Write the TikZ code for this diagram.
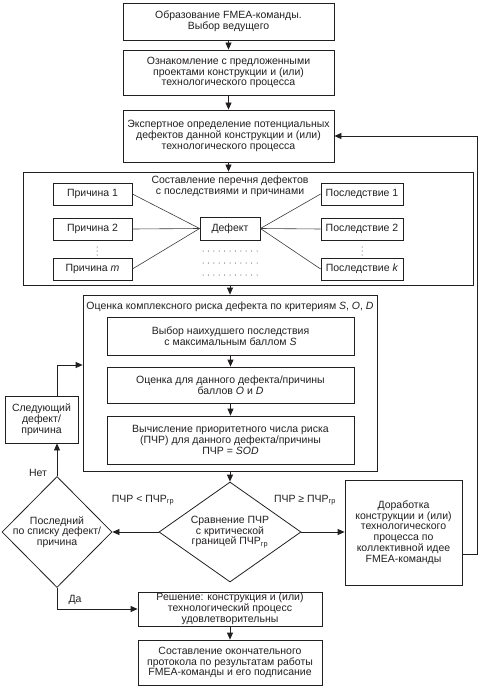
\documentclass[tikz,border=0pt]{standalone}
\usepackage{fontspec}
\setmainfont{Liberation Sans}
\usetikzlibrary{shapes, arrows.meta, positioning, calc}
\definecolor{inkblack}{RGB}{35, 31, 32}
\definecolor{linkgray}{RGB}{60, 60, 60}

\begin{document}
\begin{tikzpicture}[x=1pt, y=-1pt,
  stepbox/.style={draw=inkblack, line width=0.8pt, align=center, inner sep=1pt, text=inkblack, font=\fontsize{10.5}{10.8}\selectfont},
  decision/.style={diamond, draw=inkblack, line width=0.8pt, inner sep=0pt},
  lbl/.style={align=center, inner sep=0pt, text=inkblack, font=\fontsize{10.5}{10.8}\selectfont},
  flow/.style={draw=inkblack, line width=0.8pt, -{Triangle[length=7pt, width=6pt]}},
  link/.style={draw=linkgray, line width=0.6pt},
  dotline/.style={draw=inkblack, line width=1pt, line cap=round, dash pattern=on 0pt off 5.4pt}]
  \useasboundingbox (0,0) rectangle (480,687);

  \node[stepbox, minimum width=211, minimum height=37] (form) at (228.5,21.5) {Образование FMEA-команды.\\Выбор ведущего};
  \node[stepbox, minimum width=211, minimum height=45] (intro) at (228.5,72.5) {Ознакомление с предложенными\\проектами конструкции и (или)\\технологического процесса};
  \node[stepbox, minimum width=211, minimum height=52] (expert) at (228.5,136) {Экспертное определение потенциальных\\дефектов данной конструкции и (или)\\технологического процесса};

  \node[stepbox, minimum width=450, minimum height=113] (list) at (248,228.5) {};
  \node[lbl] (listtitle) at (230,186.5) {Составление перечня дефектов\\с последствиями и причинами};
  \node[stepbox, minimum width=79, minimum height=22] (cause1) at (92.5,194) {Причина 1};
  \node[stepbox, minimum width=79, minimum height=22] (cause2) at (92.5,229) {Причина 2};
  \node[stepbox, minimum width=79, minimum height=22] (causem) at (92.5,269) {Причина \textit{m}};
  \node[stepbox, minimum width=60, minimum height=23] (defect) at (230,228.5) {Дефект};
  \node[stepbox, minimum width=82, minimum height=22] (effect1) at (362,194) {Последствие 1};
  \node[stepbox, minimum width=82, minimum height=22] (effect2) at (362,229) {Последствие 2};
  \node[stepbox, minimum width=82, minimum height=22] (effectk) at (362,269) {Последствие \textit{k}};
  \foreach \c in {cause1, cause2, causem}
    \draw[link] (\c.east) -- (defect.west);
  \foreach \e in {effect1, effect2, effectk}
    \draw[link] (defect.east) -- (\e.west);
  \draw[dotline, dash pattern=on 0pt off 4pt] (97,247) -- (97,255.5);
  \draw[dotline, dash pattern=on 0pt off 4pt] (362,247) -- (362,255.5);
  \foreach \y in {251, 263, 275}
    \draw[dotline] (203,\y) -- (258,\y);

  \node[stepbox, minimum width=294, minimum height=176] (risk) at (230,383) {};
  \node[lbl] (risktitle) at (230,307) {Оценка комплексного риска дефекта по критериям \textit{S}, \textit{O}, \textit{D}};
  \node[stepbox, minimum width=247, minimum height=38] (worst) at (230.5,336) {Выбор наихудшего последствия\\с максимальным баллом \textit{S}};
  \node[stepbox, minimum width=247, minimum height=36] (grades) at (230.5,385) {Оценка для данного дефекта/причины\\баллов \textit{O} и \textit{D}};
  \node[stepbox, minimum width=247, minimum height=48] (rpn) at (230.5,440) {Вычисление приоритетного числа риска\\(ПЧР) для данного дефекта/причины\\ПЧР = \textit{SOD}};

  \node[stepbox, minimum width=73, minimum height=47] (next) at (41.5,419.5) {Следующий\\дефект/\\причина};

  \node[decision, minimum width=142, minimum height=100] (compare) at (230,532) {};
  \node[lbl] (comparetext) at (compare) {Сравнение ПЧР\\с критической\\границей ПЧР\textsubscript{гр}};
  \node[decision, minimum width=110, minimum height=111] (last) at (57,532) {};
  \node[lbl] (lasttext) at (last) {Последний\\по списку дефект/\\причина};
  \node[stepbox, minimum width=117, minimum height=105] (rework) at (403.5,532.5) {Доработка\\конструкции и (или)\\технологического\\процесса по\\коллективной идее\\FMEA-команды};

  \node[stepbox, minimum width=184, minimum height=34] (accept) at (230,609) {Решение: конструкция и (или)\\технологический процесс\\удовлетворительны};
  \node[stepbox, minimum width=184, minimum height=45] (report) at (230,662.5) {Составление окончательного\\протокола по результатам работы\\FMEA-команды и его подписание};

  \node[lbl] (low) at (143,500) {ПЧР < ПЧР\textsubscript{гр}};
  \node[lbl] (high) at (305,500) {ПЧР ≥ ПЧР\textsubscript{гр}};
  \node[lbl] (no) at (38,473) {Нет};
  \node[lbl] (yes) at (75,600) {Да};

  \coordinate (riskin) at ($(risk.west)+(0,-18)$);
  \coordinate (reworkout) at ($(rework.east)+(0,21.5)$);

  \draw[flow] (form) -- (intro);
  \draw[flow] (intro) -- (expert);
  \draw[flow] (expert.south) -- (expert.south |- list.north);
  \draw[flow] (risk.north |- list.south) -- (risk.north);
  \draw[flow] (worst) -- (grades);
  \draw[flow] (grades) -- (rpn);
  \draw[flow] (risk.south) -- (compare.north);
  \draw[flow] (compare.west) -- (last.east);
  \draw[flow] (compare.east) -- (rework.west |- compare.east);
  \draw[flow] (last.north) -- (last.north |- next.south);
  \draw[flow] (last.north |- next.north) |- (riskin);
  \draw[flow] (last.south) |- (accept.west);
  \draw[flow] (accept) -- (report);
  \draw[flow] (reworkout) -- ++(15,0) |- (expert.east);
\end{tikzpicture}
\end{document}
